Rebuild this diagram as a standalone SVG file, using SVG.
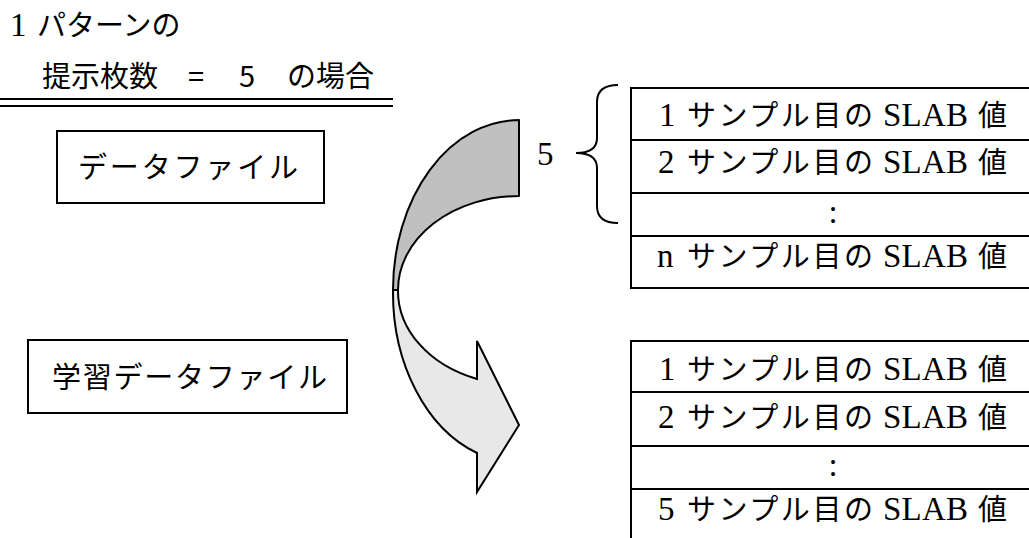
<svg xmlns="http://www.w3.org/2000/svg" width="1029" height="538" viewBox="0 0 1029 538">
<style>
.jp{font-family:"Noto Sans CJK JP","Noto Sans",sans-serif;font-size:29px;fill:#000}
.lat{font-family:"Liberation Serif","Noto Sans CJK JP",serif;font-size:33px;fill:#000}
.box{fill:#fff;stroke:#000;stroke-width:2}
.ln{stroke:#000;stroke-width:2;fill:none}
</style>
<rect width="1029" height="538" fill="#fff"/>
<g id="title">
<text x="10" y="36"><tspan class="lat" font-size="31">1</tspan><tspan class="jp" font-size="30" x="37">パターンの</tspan></text>
<text class="jp" y="87"><tspan x="42">提示枚数</tspan><tspan x="188">=</tspan><tspan x="239">5</tspan><tspan x="287">の場合</tspan></text>
<line class="ln" x1="0" y1="99" x2="393" y2="99"/>
<line class="ln" x1="0" y1="106" x2="393" y2="106"/>
</g>
<g id="datafile">
<rect class="box" x="57" y="131" width="267" height="72"/>
<text class="jp" x="78" y="178" textLength="220" font-size="30">データファイル</text>
</g>
<g id="learnfile">
<rect class="box" x="28" y="340" width="319" height="73"/>
<text class="jp" x="52" y="388" textLength="275" font-size="30">学習データファイル</text>
</g>
<g id="connectors">
<path d="M519,120 A126,170 0 0 0 393,290 L398,290 A121,94 0 0 1 519,196 Z" fill="#c0c0c0" stroke="#000" stroke-width="2" stroke-linejoin="round"/>
<path d="M393,290 A126,170 0 0 0 477,453 L477,492 L519,425 L477,341 L477,379 A121,94 0 0 1 398,290 Z" fill="#e8e8e8" stroke="#000" stroke-width="2" stroke-linejoin="miter"/>
</g>
<g id="brace">
<path class="ln" d="M618,85 Q597,85 597,102 L597,138 Q597,153 576,153 Q597,153 597,168 L597,206 Q597,223 618,223"/>
<text class="lat" x="537" y="165">5</text>
</g>
<g id="table1">
<rect class="box" x="631" y="88" width="420" height="200"/>
<line class="ln" x1="631" y1="140" x2="1040" y2="140"/>
<line class="ln" x1="631" y1="193" x2="1040" y2="193"/>
<line class="ln" x1="631" y1="236" x2="1040" y2="236"/>
<text y="126"><tspan class="lat" x="659">1</tspan><tspan class="jp" font-size="30" x="687" textLength="186">サンプル目の</tspan><tspan class="lat" x="883" textLength="85">SLAB</tspan><tspan class="jp" font-size="30" x="978">値</tspan></text>
<text y="173"><tspan class="lat" x="658">2</tspan><tspan class="jp" font-size="30" x="687" textLength="186">サンプル目の</tspan><tspan class="lat" x="883" textLength="85">SLAB</tspan><tspan class="jp" font-size="30" x="978">値</tspan></text>
<text class="lat" x="833" y="223" text-anchor="middle">:</text>
<text y="267"><tspan class="lat" x="657">n</tspan><tspan class="jp" font-size="30" x="687" textLength="186">サンプル目の</tspan><tspan class="lat" x="883" textLength="85">SLAB</tspan><tspan class="jp" font-size="30" x="978">値</tspan></text>
</g>
<g id="table2">
<rect class="box" x="631" y="341" width="420" height="220"/>
<line class="ln" x1="631" y1="392" x2="1040" y2="392"/>
<line class="ln" x1="631" y1="446" x2="1040" y2="446"/>
<line class="ln" x1="631" y1="489" x2="1040" y2="489"/>
<text y="380"><tspan class="lat" x="659">1</tspan><tspan class="jp" font-size="30" x="687" textLength="186">サンプル目の</tspan><tspan class="lat" x="883" textLength="85">SLAB</tspan><tspan class="jp" font-size="30" x="978">値</tspan></text>
<text y="428"><tspan class="lat" x="658">2</tspan><tspan class="jp" font-size="30" x="687" textLength="186">サンプル目の</tspan><tspan class="lat" x="883" textLength="85">SLAB</tspan><tspan class="jp" font-size="30" x="978">値</tspan></text>
<text class="lat" x="833" y="476" text-anchor="middle">:</text>
<text y="520"><tspan class="lat" x="658">5</tspan><tspan class="jp" font-size="30" x="687" textLength="186">サンプル目の</tspan><tspan class="lat" x="883" textLength="85">SLAB</tspan><tspan class="jp" font-size="30" x="978">値</tspan></text>
</g>
</svg>
